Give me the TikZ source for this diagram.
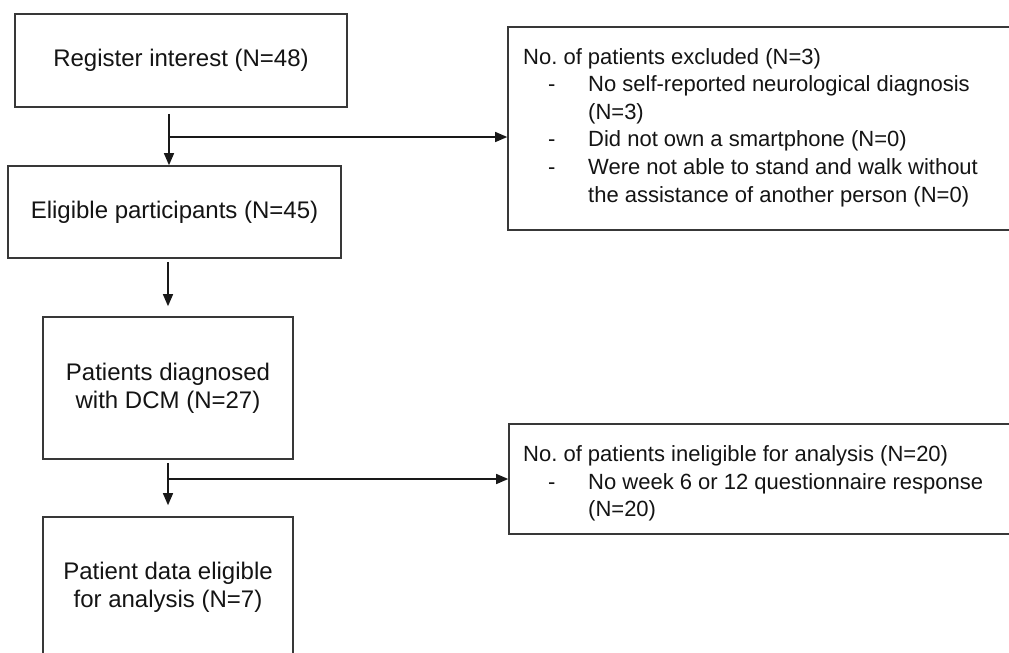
\documentclass[tikz,border=0pt]{standalone}
\usepackage{fontspec}
\setmainfont{Liberation Sans}
\usetikzlibrary{arrows.meta}
\frenchspacing
\begin{document}
\begin{tikzpicture}[x=1pt,y=-1pt,
  box/.style={draw=black!78, line width=1.6pt, rectangle, inner sep=0pt, align=center, text=black!92, font=\fontsize{24}{28}\selectfont},
  rbox/.style={draw=black!78, line width=1.6pt, rectangle, inner sep=0pt},
  rtext/.style={inner sep=0pt, anchor=base west, text=black!92, font=\fontsize{22}{27.6}\selectfont},
  arr/.style={draw=black!90, line width=1.3pt, -{Triangle[width=10pt,length=12pt]}}
]
\useasboundingbox[fill=white] (0,0) rectangle (1009,653);

% left column boxes
\node[box, minimum width=332pt, minimum height=93pt] (b1) at (181,60.5) {Register interest (N=48)};
\node[box, minimum width=333pt, minimum height=92pt] (b2) at (174.5,212) {Eligible participants (N=45)};
\node[box, minimum width=250pt, minimum height=142pt] (b3) at (168,388) {Patients diagnosed\\with DCM (N=27)};
\node[box, minimum width=250pt, minimum height=141pt] (b4) at (168,587.5) {Patient data eligible\\for analysis (N=7)};

% right boxes
\node[rbox, minimum width=512pt, minimum height=203pt] (r1) at (764,128.5) {};
\node[rbox, minimum width=512pt, minimum height=110pt] (r2) at (765,479) {};

\node[rtext] (t1) at (523,64) {\begin{tabular}[t]{@{}l@{}}No.\ of patients excluded (N=3)\\
\hspace*{25pt}\makebox[40pt][l]{-}No self-reported neurological diagnosis\\
\hspace*{65pt}(N=3)\\
\hspace*{25pt}\makebox[40pt][l]{-}Did not own a smartphone (N=0)\\
\hspace*{25pt}\makebox[40pt][l]{-}Were not able to stand and walk without\\
\hspace*{65pt}the assistance of another person (N=0)\end{tabular}};

\node[rtext] (t2) at (523,461.5) {\begin{tabular}[t]{@{}l@{}}No.\ of patients ineligible for analysis (N=20)\\
\hspace*{25pt}\makebox[40pt][l]{-}No week 6 or 12 questionnaire response\\
\hspace*{65pt}(N=20)\end{tabular}};

% connectors
\coordinate (j1) at (169,137);
\coordinate (j2) at (168,479);
\path (b1.south -| j1) ++(0,6) coordinate (s1);
\path (b2.south -| b3.north) ++(0,3) coordinate (s2);
\path (b3.north) ++(0,-10) coordinate (e2);
\path (b3.south) ++(0,3) coordinate (s3);
\path (b4.north) ++(0,-11) coordinate (e3);

\draw[arr] (s1) -- (b2.north -| j1);
\draw[arr] (j1) -- (r1.west |- j1);
\draw[arr] (s2) -- (e2);
\draw[arr] (s3) -- (e3);
\draw[arr] (j2) -- (r2.west |- j2);
\end{tikzpicture}
\end{document}
